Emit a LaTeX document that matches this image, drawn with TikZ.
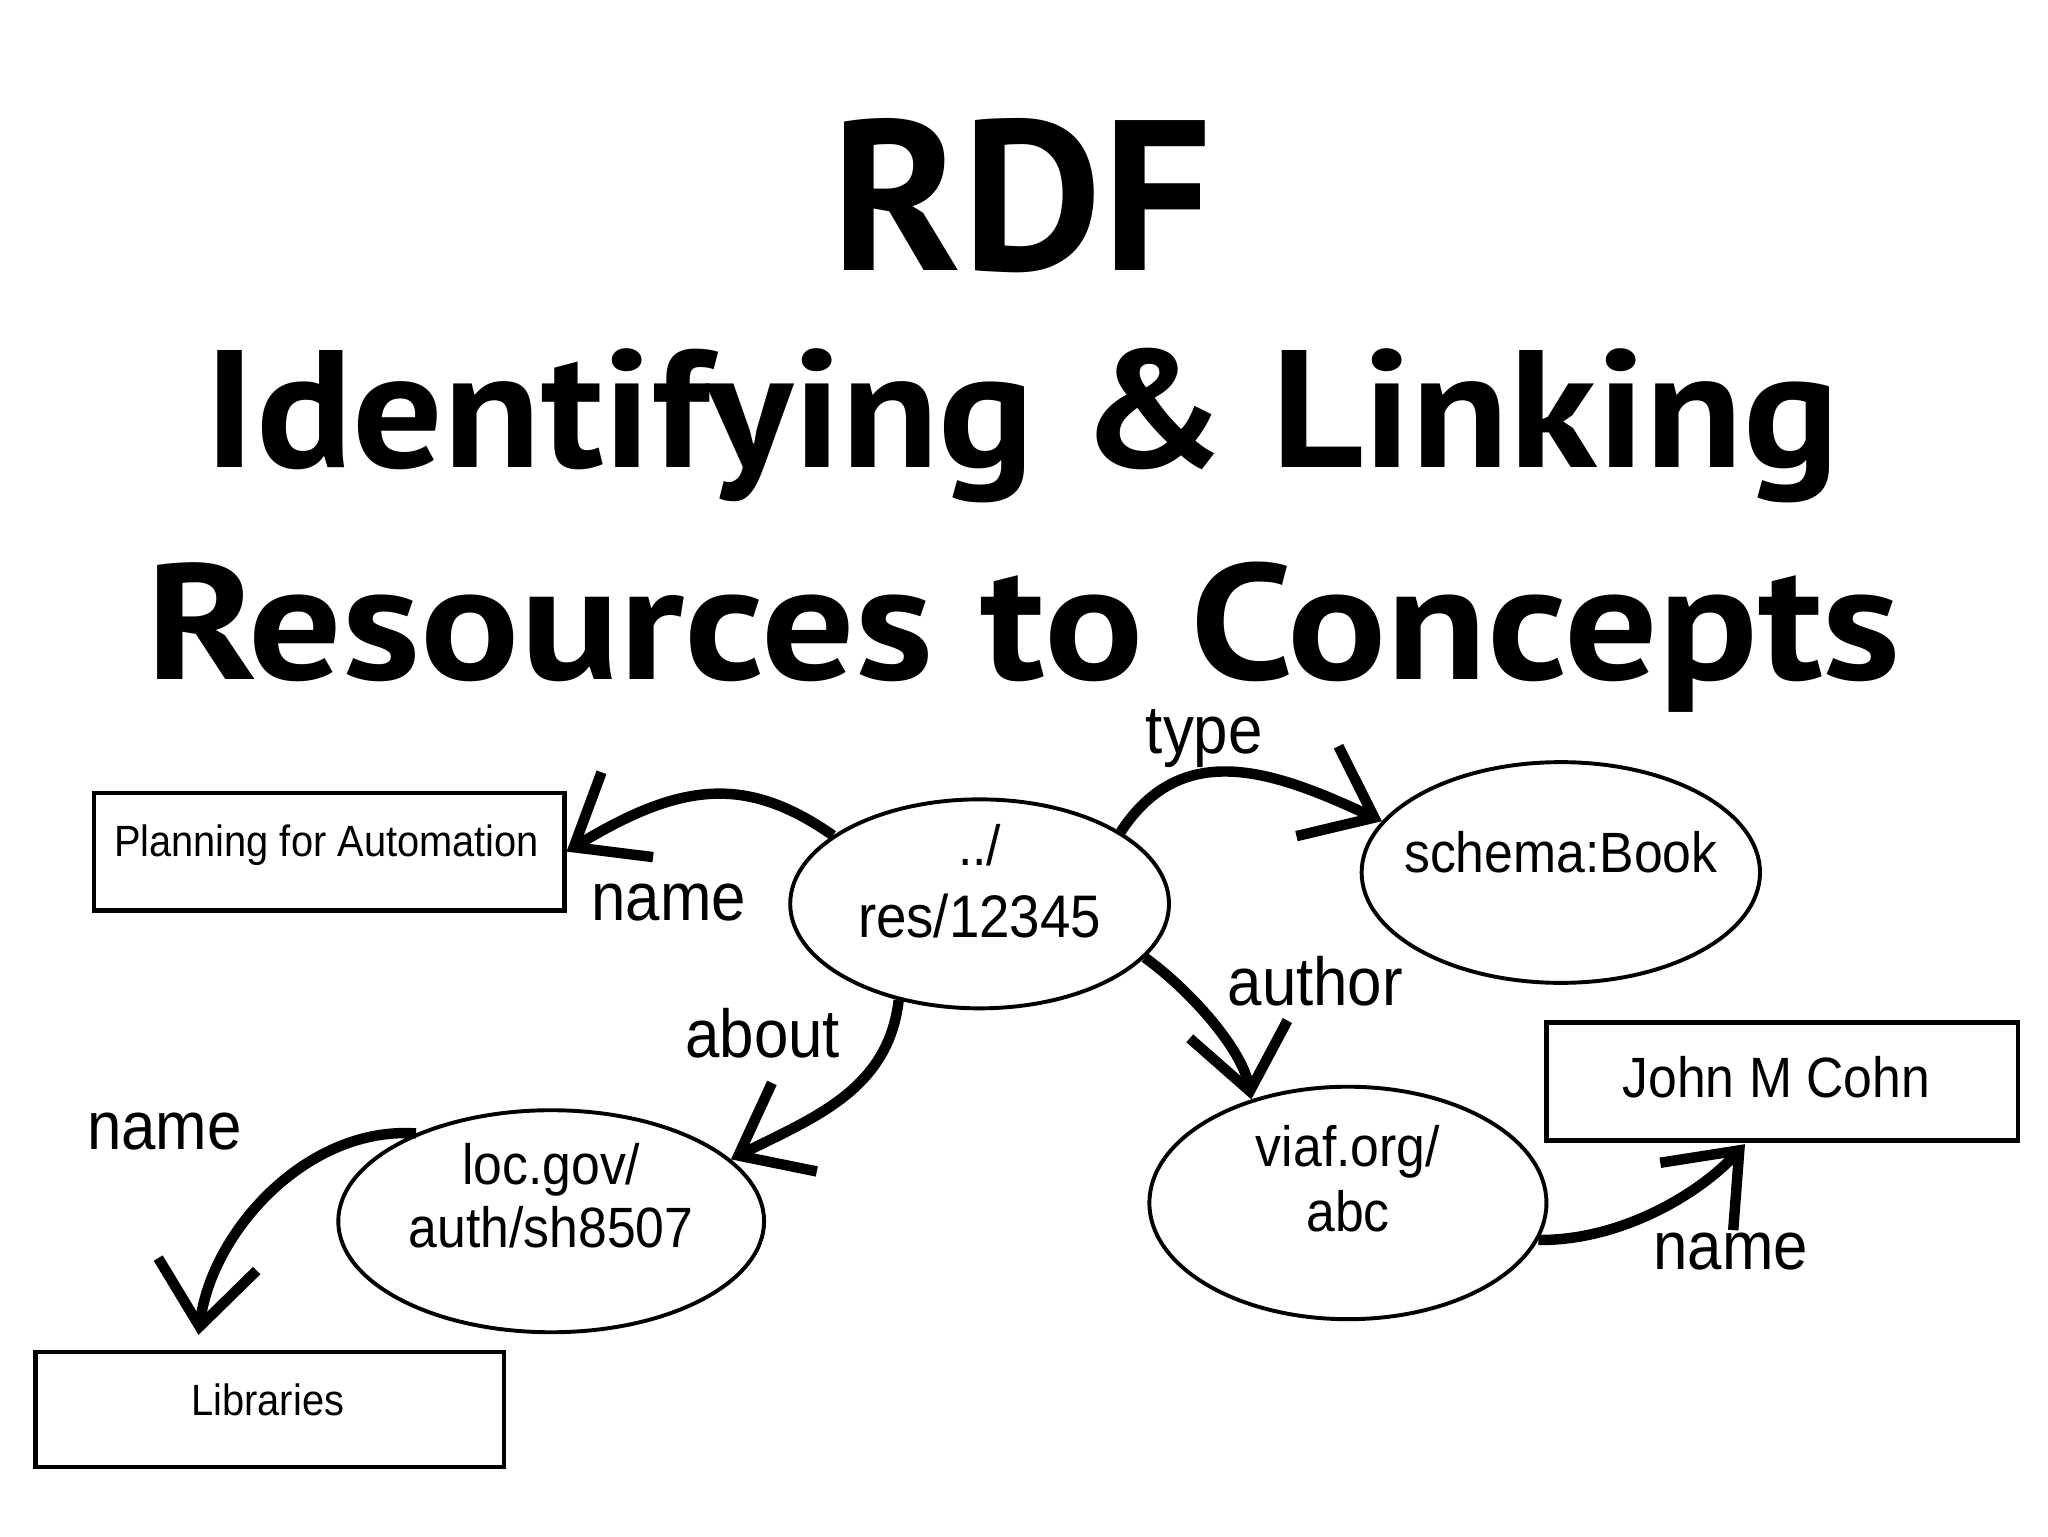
\documentclass[tikz,border=0pt]{standalone}
\usepackage{fontspec}
\setmainfont{Liberation Sans}
\newfontfamily\titlefont{PT Sans}
\newfontfamily\nfont{Liberation Sans}[FakeStretch=0.91]
\usetikzlibrary{arrows.meta,shapes.geometric}
\begin{document}
\begin{tikzpicture}[x=1pt,y=-1pt,
  ell/.style={draw, ellipse, line width=3pt, inner sep=0pt},
  box/.style={draw, rectangle, line width=3.5pt, inner sep=0pt},
  ntext/.style={anchor=base, inner sep=0pt, font=\nfont\fontsize{43.5pt}{50pt}\selectfont},
  stext/.style={anchor=base, inner sep=0pt, font=\nfont\fontsize{33.5pt}{40pt}\selectfont},
  lbl/.style={anchor=base, inner sep=0pt, font=\nfont\fontsize{52pt}{60pt}\selectfont},
  ttl/.style={anchor=base, inner sep=0pt, font=\titlefont\bfseries},
  rel/.style={line width=8pt, -{Straight Barb[length=48pt,width=76pt]}}
]
\path[use as bounding box, fill=white] (0,0) rectangle (1568,1176);

% title
\node[ttl] (t1) at (782.5,207) {\resizebox{291pt}{\height}{\fontsize{164pt}{164pt}\selectfont RDF}};
\node[ttl, text depth=0pt] (t2) at (782.5,358) {\resizebox{1251pt}{\height}{\fontsize{128pt}{128pt}\selectfont Identifying \& Linking}};
\node[ttl, text depth=0pt] (t3) at (783.5,520) {\resizebox{1343pt}{\height}{\fontsize{126pt}{126pt}\selectfont Resources to Concepts}};

% shapes
\node[ell, minimum width=290pt, minimum height=160pt] (res) at (750,692) {};
\node[ell, minimum width=305pt, minimum height=169pt] (book) at (1195,668) {};
\node[ell, minimum width=326pt, minimum height=170pt] (loc) at (422,935) {};
\node[ell, minimum width=304pt, minimum height=178pt] (viaf) at (1032,921) {};
\node[box, minimum width=360pt, minimum height=90pt] (plan) at (252,652) {};
\node[box, minimum width=361pt, minimum height=90pt] (john) at (1364.5,828) {};
\node[box, minimum width=359pt, minimum height=88pt] (lib) at (206.5,1079) {};

% node texts
\node[ntext] (res1) at (750,663) {../};
\node[ntext, font=\nfont\fontsize{46pt}{52pt}\selectfont] (res2) at (750,718) {res/12345};
\node[ntext] (book1) at (1195,668) {schema:Book};
\node[ntext] (loc1) at (422,907) {loc.gov/};
\node[ntext] (loc2) at (422,955) {auth/sh8507};
\node[ntext] (viaf1) at (1032,893) {viaf.org/};
\node[ntext] (viaf2) at (1032,943) {abc};
\node[ntext] (john1) at (1360,840) {John M Cohn};
\node[stext] (plan1) at (250,656) {Planning for Automation};
\node[stext] (lib1) at (205,1084) {Libraries};

% labels
\node[lbl] (ltype) at (922,577) {type};
\node[lbl] (lname1) at (512,705) {name};
\node[lbl] (labout) at (584,810) {about};
\node[lbl] (lauthor) at (1007,770) {author};
\node[lbl] (lname2) at (126,880) {name};
\node[lbl] (lname3) at (1325,972) {name};

% connectors
\coordinate (libtip) at (152,1022);
\coordinate (johntip) at (1336,876);
\draw[rel] (res.155) .. controls (571,593) and (521,599) .. (plan.east);
\draw[rel] (res.27) .. controls (905,565) and (975,590) .. (book.164);
\draw[rel] (res.-18) .. controls (911,758) and (951,803) .. (viaf.133);
\draw[rel] (res.230) .. controls (680,835) and (622,856) .. (loc.19);
\draw[rel] (loc.147) .. controls (235,862) and (162,943) .. (libtip);
\draw[rel] (viaf.-11) .. controls (1240,950) and (1300,915) .. (johntip);
\end{tikzpicture}
\end{document}
